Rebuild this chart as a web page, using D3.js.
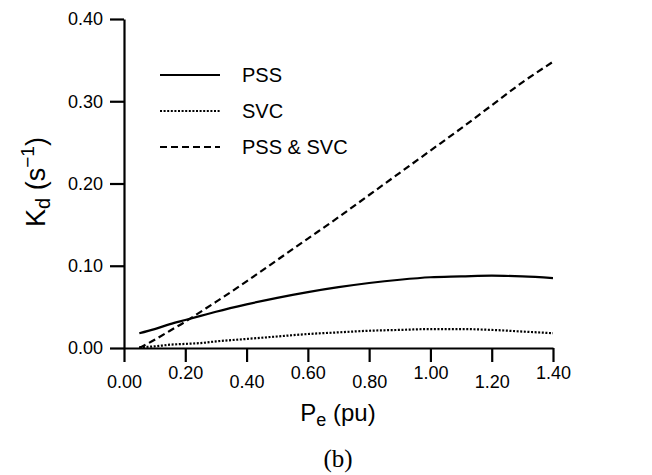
<!DOCTYPE html>
<html><head><meta charset="utf-8">
<script src="https://cdn.jsdelivr.net/npm/d3@7"></script>
<style>body{margin:0;background:#fff}svg{display:block}</style>
</head><body>
<svg id="c" width="652" height="475"></svg>
<script>
const xTicks = [0, 0.2, 0.4, 0.6, 0.8, 1.0, 1.2, 1.4];
const yTicks = [0, 0.1, 0.2, 0.3, 0.4];
const pe = [0.05, 0.1, 0.15, 0.2, 0.25, 0.3, 0.4, 0.5, 0.6, 0.7, 0.8, 0.9, 1.0, 1.1, 1.2, 1.3, 1.4];
const pss = [0.018, 0.023, 0.029, 0.034, 0.039, 0.044, 0.053, 0.061, 0.068, 0.074, 0.079, 0.083, 0.086, 0.087, 0.088, 0.087, 0.085];
const svc = [0.001, 0.002, 0.004, 0.005, 0.006, 0.008, 0.011, 0.014, 0.017, 0.019, 0.021, 0.022, 0.023, 0.023, 0.022, 0.020, 0.018];
const both = [0.000, 0.010, 0.021, 0.032, 0.044, 0.056, 0.081, 0.107, 0.133, 0.159, 0.186, 0.213, 0.240, 0.267, 0.295, 0.323, 0.348];
const seriesNames = ["PSS", "SVC", "PSS & SVC"];
const dashes = [null, "2,1.6", "7,4"];

const svg = d3.select("#c");
const x = d3.scaleLinear().domain([0, 1.4]).range([124, 553]);
const y = d3.scaleLinear().domain([0, 0.4]).range([348, 19]);
const font = "'Liberation Sans', Arial, sans-serif";

// axes
const xa = svg.append("g").attr("transform", "translate(0,348)")
  .call(d3.axisBottom(x).tickValues(xTicks).tickSize(14).tickSizeOuter(0).tickFormat(d3.format(".2f")));
xa.select(".domain").attr("stroke-width", 2.2);
xa.selectAll(".tick line").attr("stroke-width", 2.2);
xa.selectAll(".tick text").attr("font-family", font).attr("font-size", 18).attr("fill", "#000")
  .attr("y", (d, i) => i % 2 === 0 ? 40 : 31).attr("dy", 0);

const ya = svg.append("g").attr("transform", "translate(124,0)")
  .call(d3.axisLeft(y).tickValues(yTicks).tickSize(14).tickSizeOuter(0).tickFormat(d3.format(".2f")));
ya.select(".domain").attr("stroke-width", 2.2);
ya.selectAll(".tick line").attr("stroke-width", 2.2);
ya.selectAll(".tick text").attr("font-family", font).attr("font-size", 18).attr("fill", "#000").attr("x", -21);

// lines
const seriesData = [pss, svc, both];
const line = d3.line().x((d, i) => x(pe[i])).y(d => y(d)).curve(d3.curveMonotoneX);
seriesData.forEach((s, k) => {
  const p = svg.append("path").datum(s).attr("d", line).attr("fill", "none")
    .attr("stroke", "#000").attr("stroke-width", 2.2);
  if (dashes[k]) p.attr("stroke-dasharray", dashes[k]);
});

// legend
const ly = [75, 111, 147];
seriesNames.forEach((n, k) => {
  const l = svg.append("line").attr("x1", 160).attr("x2", 220).attr("y1", ly[k]).attr("y2", ly[k])
    .attr("stroke", "#000").attr("stroke-width", 2);
  if (dashes[k]) l.attr("stroke-dasharray", dashes[k]);
  svg.append("text").attr("x", 242).attr("y", ly[k] + 7).attr("font-family", font)
    .attr("font-size", 20).text(n);
});

// axis titles
const yt = svg.append("text").attr("transform", "translate(45,182) rotate(-90)")
  .attr("text-anchor", "middle").attr("font-family", font).attr("font-size", 27);
yt.append("tspan").text("K");
yt.append("tspan").text("d").attr("font-size", 20).attr("dy", 5);
yt.append("tspan").text(" (s").attr("dy", -5);
yt.append("tspan").text("\u22121").attr("font-size", 19).attr("dy", -11);
yt.append("tspan").text(")").attr("dy", 11);

const xt = svg.append("text").attr("x", 338).attr("y", 421)
  .attr("text-anchor", "middle").attr("font-family", font).attr("font-size", 24);
xt.append("tspan").text("P");
xt.append("tspan").text("e").attr("font-size", 18).attr("dy", 5);
xt.append("tspan").text(" (pu)").attr("dy", -5);

svg.append("text").attr("x", 338).attr("y", 467).attr("text-anchor", "middle")
  .attr("font-family", "'Liberation Serif', 'Times New Roman', serif").attr("font-size", 25).text("(b)");
</script>
</body></html>
